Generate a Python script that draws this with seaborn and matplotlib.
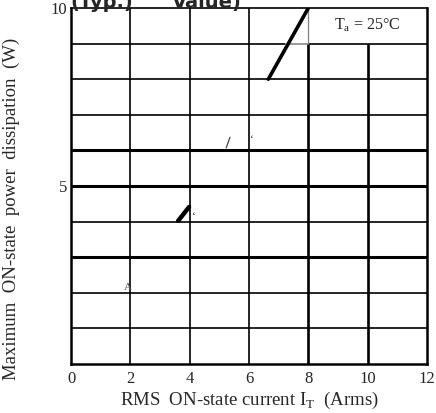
import matplotlib
matplotlib.use("Agg")
import matplotlib.pyplot as plt
import seaborn as sns

# ---- data ----
x_ticks = [0, 2, 4, 6, 8, 10, 12]
x_tick_labels = ["0", "2", "4", "6", "8", "10", "12"]
y_grid = [1, 2, 3, 4, 5, 6, 7, 8, 9]
y_tick_vals = [5, 10]
y_tick_labels = ["5", "10"]
thick_y = [3, 5, 6]
thick_x = [8, 10]

seg1_x = [6.65, 8.0]
seg1_y = [8.0, 10.0]
seg2_x = [5.23, 5.36]
seg2_y = [6.07, 6.37]
seg3_x = [3.61, 3.98]
seg3_y = [4.02, 4.41]

sns.set_theme(style="white")
plt.rcParams["font.family"] = ["Liberation Serif", "DejaVu Serif"]

fig = plt.figure(figsize=(4.36, 4.13), dpi=100)
ax = fig.add_axes([71/436, 1 - 364/413, (427-71)/436, (364-8)/413])
ax.set_xlim(0, 12)
ax.set_ylim(0, 10)

# grid lines
for y in y_grid:
    lw = 2.2 if y in thick_y else 1.2
    if y == 9:
        ax.hlines(y, 0, 7.2, color="black", lw=lw)
        ax.hlines(y, 7.2, 8, color="#888888", lw=lw)
        ax.hlines(y, 8, 12, color="black", lw=lw)
    else:
        ax.hlines(y, 0, 12, color="black", lw=lw)
for x in x_ticks[1:-1]:
    lw = 1.9 if x in thick_x else 1.2
    if x == 8:
        ax.vlines(x, 0, 9, color="black", lw=lw)
        ax.vlines(x, 9, 10, color="#888888", lw=1.0)
    elif x == 10:
        ax.vlines(x, 0, 9, color="black", lw=lw)
    else:
        ax.vlines(x, 0, 10, color="black", lw=lw)

# curve segments
sns.lineplot(x=seg1_x, y=seg1_y, ax=ax, color="black", lw=2.6)
sns.lineplot(x=seg2_x, y=seg2_y, ax=ax, color="#444444", lw=0.9)
sns.lineplot(x=seg3_x, y=seg3_y, ax=ax, color="black", lw=3.2)

ax.text(6.1, 6.3, "\u2018", fontsize=8, ha="center", va="center")
ax.text(4.15, 4.15, "\u2018", fontsize=8, ha="center", va="center")
ax.text(1.92, 2.15, "A", fontsize=8, ha="center", va="center", color="#555555")
ax.text(10.0, 9.52, "T$_\\mathregular{a}$ = 25\u00b0C",
        fontsize=11.5, ha="center", va="center")

for s in ax.spines.values():
    s.set_visible(True)
    s.set_color("black")
    s.set_linewidth(1.8)
ax.spines["top"].set_linewidth(1.2)

ax.set_xticks(x_ticks)
ax.set_xticklabels(x_tick_labels, fontsize=12)
ax.set_yticks(y_tick_vals)
ax.set_yticklabels(y_tick_labels, fontsize=12)
ax.tick_params(axis="x", length=0, pad=5)
ax.tick_params(axis="y", length=0, pad=3)
ax.grid(False)

ax.set_xlabel("RMS  ON-state current I$_\\mathregular{T}$  (Arms)", fontsize=13.5, labelpad=2)
ax.set_ylabel("Maximum  ON-state  power  dissipation  (W)", fontsize=13.5)
ax.yaxis.set_label_coords(-0.143, 0.435)

# clipped title at the very top (as in the reference)
fig.text(70/436, 1 - 8/413, "(Typ.)", fontsize=14, fontweight="bold",
         family="DejaVu Sans", ha="left", va="baseline")
fig.text(172/436, 1 - 8/413, "Value)", fontsize=14, fontweight="bold",
         family="DejaVu Sans", ha="left", va="baseline")

fig.savefig("out.png", dpi=100)
